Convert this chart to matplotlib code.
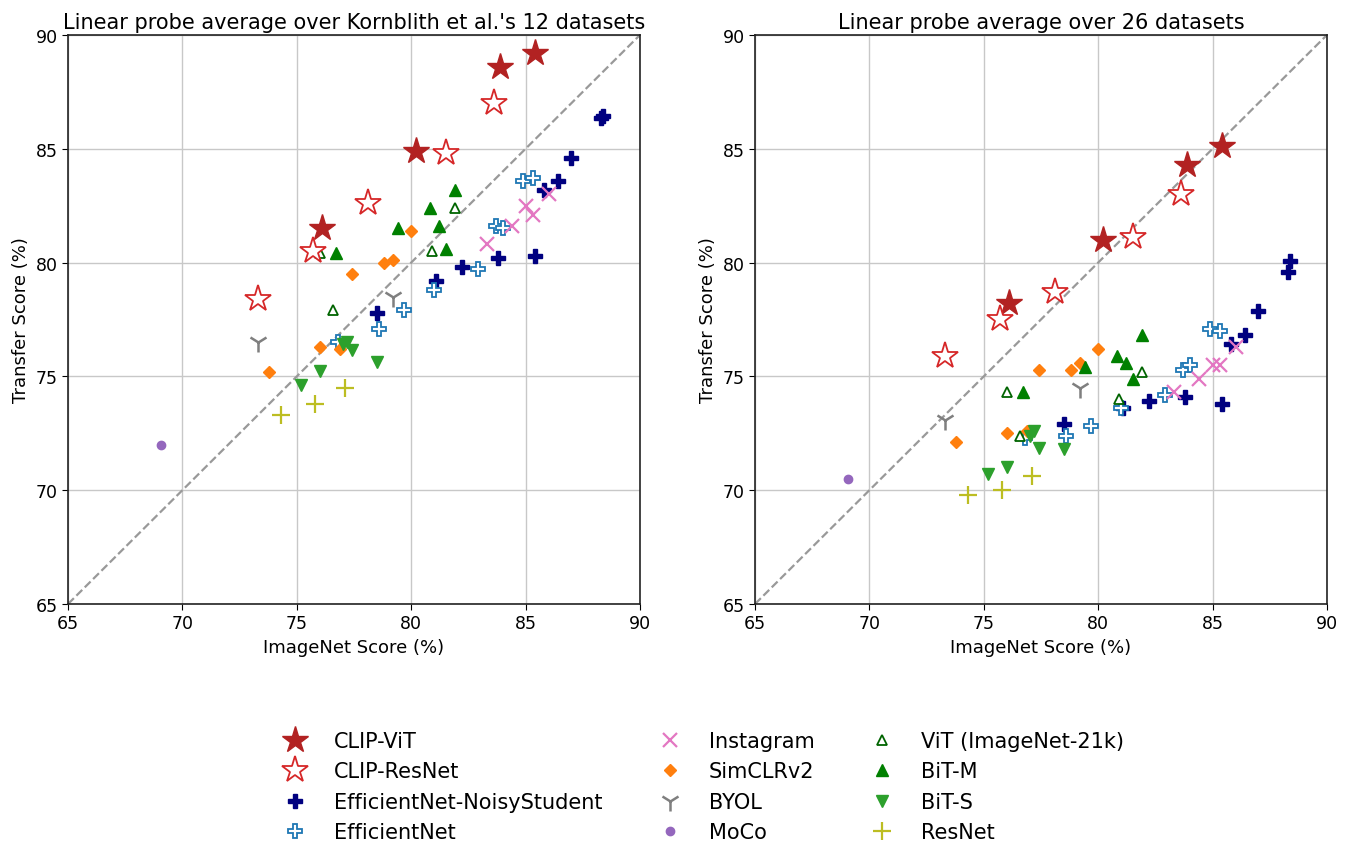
import matplotlib
matplotlib.use("Agg")
import matplotlib.pyplot as plt

# ImageNet scores (shared by both panels)
clip_vit_x = [76.1, 80.2, 83.9, 85.4]
clip_resnet_x = [73.3, 75.7, 78.1, 81.5, 83.6]
noisy_x = [78.5, 81.1, 82.2, 83.8, 85.4, 85.8, 86.4, 87.0, 88.3, 88.4]
effnet_x = [76.8, 78.6, 79.7, 81.0, 82.9, 83.7, 84.0, 84.9, 85.3]
instagram_x = [83.3, 84.4, 85.0, 85.3, 86.0]
simclr_x = [73.8, 76.0, 76.9, 77.4, 78.8, 79.2, 80.0]
byol_x = [73.3, 79.2]
moco_x = [69.05]
vit_x = [76.0, 76.6, 80.9, 81.9]
bitm_x = [76.7, 79.4, 80.8, 81.2, 81.5, 81.9]
bits_x = [75.2, 76.0, 77.0, 77.2, 77.4, 78.5]
resnet_x = [74.3, 75.8, 77.1]

# transfer scores, Kornblith 12 datasets
clip_vit_k = [81.5, 84.9, 88.6, 89.2]
clip_resnet_k = [78.4, 80.5, 82.6, 84.8, 87.0]
noisy_k = [77.8, 79.2, 79.8, 80.2, 80.3, 83.2, 83.6, 84.6, 86.35, 86.45]
effnet_k = [76.5, 77.1, 77.9, 78.8, 79.7, 81.6, 81.5, 83.6, 83.7]
instagram_k = [80.8, 81.6, 82.5, 82.1, 83.0]
simclr_k = [75.2, 76.3, 76.2, 79.5, 80.0, 80.1, 81.4]
byol_k = [76.5, 78.5]
moco_k = [72.0]
vit_k = [80.4, 77.9, 80.5, 82.4]
bitm_k = [80.4, 81.5, 82.4, 81.6, 80.6, 83.2]
bits_k = [74.6, 75.25, 76.4, 76.5, 76.15, 75.65]
resnet_k = [73.3, 73.8, 74.5]

# transfer scores, 26 datasets
clip_vit_26 = [78.2, 81.0, 84.3, 85.1]
clip_resnet_26 = [75.9, 77.5, 78.7, 81.1, 83.0]
noisy_26 = [72.9, 73.6, 73.9, 74.1, 73.8, 76.4, 76.8, 77.85, 79.6, 80.05]
effnet_26 = [72.3, 72.4, 72.8, 73.6, 74.2, 75.3, 75.5, 77.1, 77.0]
instagram_26 = [74.3, 74.9, 75.5, 75.5, 76.3]
simclr_26 = [72.1, 72.5, 72.6, 75.3, 75.3, 75.6, 76.2]
byol_26 = [73.1, 74.5]
moco_26 = [70.5]
vit_26 = [74.3, 72.4, 74.0, 75.2]
bitm_26 = [74.3, 75.4, 75.9, 75.6, 74.9, 76.8]
bits_26 = [70.7, 71.0, 72.4, 72.6, 71.85, 71.8]
resnet_26 = [69.8, 70.0, 70.6]

# (label, x, y_left, y_right, style); drawn in this order
series = [
    ("EfficientNet-NoisyStudent", noisy_x, noisy_k, noisy_26,
     dict(marker="P", ms=10, color="navy", mec="navy")),
    ("EfficientNet", effnet_x, effnet_k, effnet_26,
     dict(marker="P", ms=10, mfc="white", mec="tab:blue", mew=1.3)),
    ("Instagram", instagram_x, instagram_k, instagram_26,
     dict(marker="x", ms=10, color="tab:pink", mew=1.6)),
    ("SimCLRv2", simclr_x, simclr_k, simclr_26,
     dict(marker="D", ms=6, color="tab:orange")),
    ("BYOL", byol_x, byol_k, byol_26,
     dict(marker="1", ms=14, color="tab:gray", mew=1.8)),
    ("MoCo", moco_x, moco_k, moco_26,
     dict(marker="o", ms=6, color="tab:purple")),
    ("ViT (ImageNet-21k)", vit_x, vit_k, vit_26,
     dict(marker="^", ms=7, mfc="white", mec="darkgreen", mew=1.3)),
    ("BiT-M", bitm_x, bitm_k, bitm_26,
     dict(marker="^", ms=8, color="green")),
    ("BiT-S", bits_x, bits_k, bits_26,
     dict(marker="v", ms=8, color="tab:green")),
    ("ResNet", resnet_x, resnet_k, resnet_26,
     dict(marker="+", ms=13, color="tab:olive", mew=1.6)),
    ("CLIP-ViT", clip_vit_x, clip_vit_k, clip_vit_26,
     dict(marker="*", ms=20, color="firebrick")),
    ("CLIP-ResNet", clip_resnet_x, clip_resnet_k, clip_resnet_26,
     dict(marker="*", ms=20, mfc="white", mec="tab:red", mew=1.3)),
]

legend_order = [
    "CLIP-ViT", "CLIP-ResNet", "EfficientNet-NoisyStudent", "EfficientNet",
    "Instagram", "SimCLRv2", "BYOL", "MoCo",
    "ViT (ImageNet-21k)", "BiT-M", "BiT-S", "ResNet",
]

titles = ["Linear probe average over Kornblith et al.'s 12 datasets",
          "Linear probe average over 26 datasets"]

fig, axes = plt.subplots(1, 2, figsize=(13.5, 8.54), dpi=100)
fig.subplots_adjust(left=0.0504, right=0.983, top=0.958, bottom=0.2916, wspace=0.201)

handles = {}
for idx, ax in enumerate(axes):
    ax.plot([65, 90], [65, 90], ls="--", color="#999999", lw=1.6, zorder=1)
    for label, xs, yk, y26, style in series:
        ys = yk if idx == 0 else y26
        (h,) = ax.plot(xs, ys, ls="none", label=label, zorder=3, **style)
        handles[label] = h
    ax.set_xlim(65, 90)
    ax.set_ylim(65, 90)
    ax.set_xticks(range(65, 91, 5))
    ax.set_yticks(range(65, 91, 5))
    ax.grid(True, color="#c8c8c8", lw=1.0)
    ax.set_axisbelow(True)
    ax.tick_params(labelsize=12.5, length=4)
    ax.set_xlabel("ImageNet Score (%)", fontsize=13)
    ax.set_ylabel("Transfer Score (%)", fontsize=13)
    ax.set_title(titles[idx], fontsize=15, pad=5)
    for sp in ax.spines.values():
        sp.set_linewidth(1.2)
        sp.set_color("#222222")

fig.legend([handles[l] for l in legend_order], legend_order, loc="lower center",
           bbox_to_anchor=(0.518, -0.0094), ncol=3, frameon=False, fontsize=15,
           handletextpad=0.86, columnspacing=2.25, labelspacing=0.5)

fig.savefig("out.png", dpi=100, facecolor="white")
